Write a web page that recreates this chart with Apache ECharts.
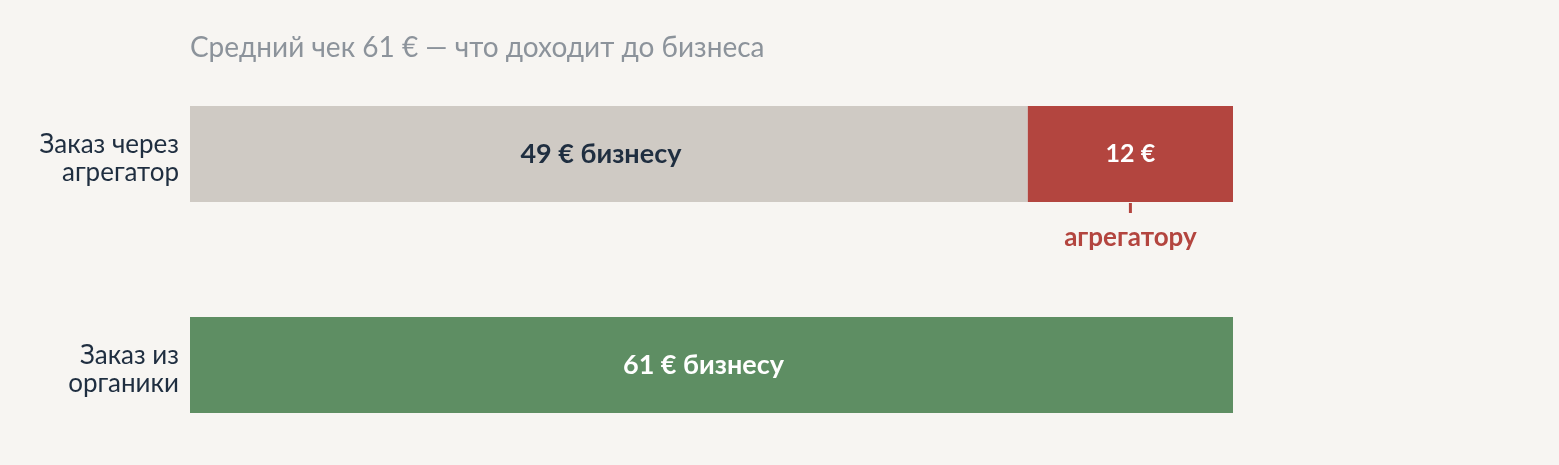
<!DOCTYPE html>
<html>
<head>
<meta charset="utf-8">
<script src="https://cdn.jsdelivr.net/npm/echarts@6/dist/echarts.min.js"></script>
<style>
  html, body { margin: 0; padding: 0; background: #f7f5f2; }
  #chart { width: 1559px; height: 465px; }
</style>
</head>
<body>
<div id="chart"></div>
<script>
// данные
const categories = ['Заказ через\nагрегатор', 'Заказ из\nорганики'];
const businessValues = [49, 61];
const aggregatorValues = [12, null];
const averageCheck = 61;

const FONT = 'Lato, "Noto Sans", sans-serif';

const myChart = echarts.init(document.getElementById('chart'));

const option = {
  backgroundColor: '#f7f5f2',
  title: {
    text: 'Средний чек ' + averageCheck + ' € — что доходит до бизнеса',
    left: 185,
    top: 29,
    textStyle: { fontFamily: FONT, fontSize: 28, fontWeight: 'normal', color: '#8c939b' },
  },
  // категории стоят на краях сетки, чтобы центры баров были 154 и 365
  grid: { left: 190, right: 326, top: 154, bottom: 100 },
  xAxis: {
    type: 'value',
    min: 0,
    max: averageCheck,
    show: false,
  },
  yAxis: {
    type: 'category',
    data: categories,
    inverse: true,
    boundaryGap: false,
    axisLine: { show: false },
    axisTick: { show: false },
    splitLine: { show: false },
    axisLabel: {
      margin: 11,
      color: '#1f2e40',
      align: 'right',
      // первая строка выше, чтобы подпись сидела чуть ниже центра бара
      formatter: (value) => {
        const [first, second] = value.split('\n');
        return '{a|' + first + '}\n{b|' + second + '}';
      },
      rich: {
        a: { fontFamily: FONT, fontSize: 26, lineHeight: 38, verticalAlign: 'bottom', color: '#1f2e40' },
        b: { fontFamily: FONT, fontSize: 26, lineHeight: 30, color: '#1f2e40' },
      },
    },
  },
  series: [
    {
      name: 'бизнесу',
      type: 'bar',
      stack: 'check',
      barWidth: 96,
      clip: false,
      silent: true,
      data: businessValues.map((v, i) => ({
        value: v,
        itemStyle: { color: i === 0 ? '#cfcac4' : '#5e8e63' },
        label: { color: i === 0 ? '#1f2e40' : '#ffffff' },
      })),
      label: {
        show: true,
        position: 'inside',
        offset: [-8, 0],
        formatter: (p) => p.value + ' € бизнесу',
        fontFamily: FONT,
        fontSize: 27,
        fontWeight: 'bold',
      },
    },
    {
      name: 'агрегатору',
      type: 'bar',
      stack: 'check',
      barWidth: 96,
      clip: false,
      silent: true,
      itemStyle: { color: '#b3453f' },
      data: aggregatorValues,
      label: {
        show: true,
        position: 'inside',
        formatter: (p) => p.value + ' €',
        fontFamily: FONT,
        fontSize: 25,
        fontWeight: 'bold',
        color: '#ffffff',
      },
      markPoint: {
        silent: true,
        symbol: 'rect',
        symbolSize: [3, 10],
        symbolOffset: [0, 54],
        itemStyle: { color: '#b3453f' },
        label: {
          show: true,
          position: 'bottom',
          distance: 12,
          formatter: 'агрегатору',
          fontFamily: FONT,
          fontSize: 26,
          fontWeight: 'bold',
          color: '#b3453f',
        },
        data: [{ coord: [businessValues[0] + aggregatorValues[0] / 2, 0] }],
      },
    },
  ],
};

myChart.setOption(option);
</script>
</body>
</html>
